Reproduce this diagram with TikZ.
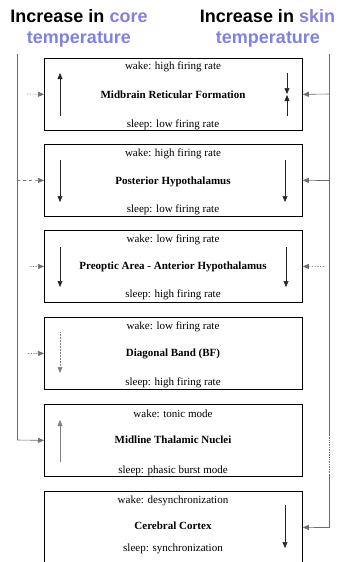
\documentclass[tikz,border=0pt]{standalone}
\usepackage{fontspec}
\setmainfont{Liberation Serif}
\newfontfamily\hdfont{Liberation Sans}
\usetikzlibrary{arrows.meta,calc}
\definecolor{hblue}{RGB}{128,128,230}
\definecolor{lgray}{RGB}{110,110,110}
\begin{document}
\begin{tikzpicture}[x=1pt,y=-1pt,
  region/.style={draw=black,line width=0.8pt,minimum width=258pt,minimum height=72pt,anchor=north west,inner sep=0pt},
  txt/.style={font=\fontsize{11}{12}\selectfont,inner sep=0pt},
  ttl/.style={font=\fontsize{11}{12}\selectfont\bfseries,inner sep=0pt},
  hd/.style={font=\hdfont\bfseries\fontsize{18}{18}\selectfont,inner sep=0pt,anchor=base},
  tip/.style={-{Triangle[length=6pt,width=5pt]}},
  inarrow/.style={tip,line width=0.5pt,draw=black!85},
  feed/.style={tip,line width=0.6pt,draw=lgray},
  vline/.style={line width=0.7pt,draw=lgray}
]
\useasboundingbox (0,0) rectangle (339,562);

% headers
\node[hd] (h1) at (79,22.5) {Increase in \textcolor{hblue}{core}};
\node[hd] (h2) at (79,43) {\textcolor{hblue}{temperature}};
\node[hd] (h3) at (267.5,22.5) {Increase in \textcolor{hblue}{skin}};
\node[hd] (h4) at (268,43) {\textcolor{hblue}{temperature}};

% boxes
\node[region] (b1) at (44,58) {};
\node[region] (b2) at (44,144) {};
\node[region] (b3) at (44,230) {};
\node[region] (b4) at (44,317) {};
\node[region] (b5) at (44,404) {};
\node[region] (b6) at (44,491) {};

% box texts
\node[txt] (w1) at (173,67) {wake: high firing rate};
\node[ttl] (t1) at (173,95) {Midbrain Reticular Formation};
\node[txt] (s1) at (173,125) {sleep: low firing rate};
\node[txt] (w2) at (173,154) {wake: high firing rate};
\node[ttl] (t2) at (173,182) {Posterior Hypothalamus};
\node[txt] (s2) at (173,210) {sleep: low firing rate};
\node[txt] (w3) at (173,240) {wake: low firing rate};
\node[ttl] (t3) at (173,267) {Preoptic Area - Anterior Hypothalamus};
\node[txt] (s3) at (173,295) {sleep: high firing rate};
\node[txt] (w4) at (173,327) {wake: low firing rate};
\node[ttl] (t4) at (173,354) {Diagonal Band (BF)};
\node[txt] (s4) at (173,383) {sleep: high firing rate};
\node[txt] (w5) at (173,414) {wake: tonic mode};
\node[ttl] (t5) at (173,440) {Midline Thalamic Nuclei};
\node[txt] (s5) at (173,471) {sleep: phasic burst mode};
\node[txt] (w6) at (173,501) {wake: desynchronization};
\node[ttl] (t6) at (173,526) {Cerebral Cortex};
\node[txt] (s6) at (173,549) {sleep: synchronization};

% inner arrows
\coordinate (a1s) at (60,116); \coordinate (a1e) at (60,73);
\coordinate (a1t) at (287,73); \coordinate (a1m) at (287,94.5); \coordinate (a1b) at (287,116);
\coordinate (a2s) at (60,160); \coordinate (a2e) at (60,202);
\coordinate (a2r) at (285,160); \coordinate (a2q) at (285,202);
\coordinate (a3s) at (60,247); \coordinate (a3e) at (60,287);
\coordinate (a3r) at (286,247); \coordinate (a3q) at (286,287);
\coordinate (a4s) at (60,332); \coordinate (a4e) at (60,373);
\coordinate (a5s) at (60,462); \coordinate (a5e) at (60,420);
\coordinate (a6s) at (285,505); \coordinate (a6e) at (285,548);
\draw[inarrow] (a1s) -- (a1e);
\draw[inarrow] (a1t) -- ($(a1m)+(0,-0.5)$);
\draw[inarrow] (a1b) -- ($(a1m)+(0,0.5)$);
\draw[inarrow] (a2s) -- (a2e);
\draw[inarrow] (a2r) -- (a2q);
\draw[inarrow] (a3s) -- (a3e);
\draw[inarrow] (a3r) -- (a3q);
\draw[inarrow,draw=gray,densely dotted] (a4s) -- (a4e);
\draw[inarrow,draw=gray] (a5s) -- (a5e);
\draw[inarrow] (a6s) -- (a6e);

% left (core) feed line
\coordinate (Ltop) at (17,54);
\coordinate (L5) at (17,440);
\draw[vline] (Ltop) -- (L5);
\draw[feed] (L5) -- (b5.west);
\coordinate (L1) at (27,94);
\coordinate (L2) at (17,180.5);
\coordinate (L3) at (30,266.5);
\coordinate (L4) at (28,353.5);
\draw[feed,densely dotted] (L1) -- (b1.west);
\draw[feed,dashed] (L2) -- (b2.west);
\draw[feed,densely dotted] (L3) -- (b3.west);
\draw[feed,densely dotted] (L4) -- (b4.west);

% right (skin) feed line
\coordinate (Rtop) at (329,54);
\coordinate (Rg1) at (329,435);
\coordinate (Rg2) at (329,475);
\coordinate (R6) at (329,527.5);
\draw[vline] (Rtop) -- (Rg1);
\draw[vline,densely dotted] (Rg1) -- (Rg2);
\draw[vline] (Rg2) -- (R6);
\draw[feed] (R6) -- (b6.east);
\coordinate (R1) at (329,94);
\coordinate (R2) at (329,180.5);
\coordinate (R3) at (324,266.5);
\draw[feed] (R1) -- (b1.east);
\draw[feed] (R2) -- (b2.east);
\draw[feed,densely dotted] (R3) -- (b3.east);
\end{tikzpicture}
\end{document}
